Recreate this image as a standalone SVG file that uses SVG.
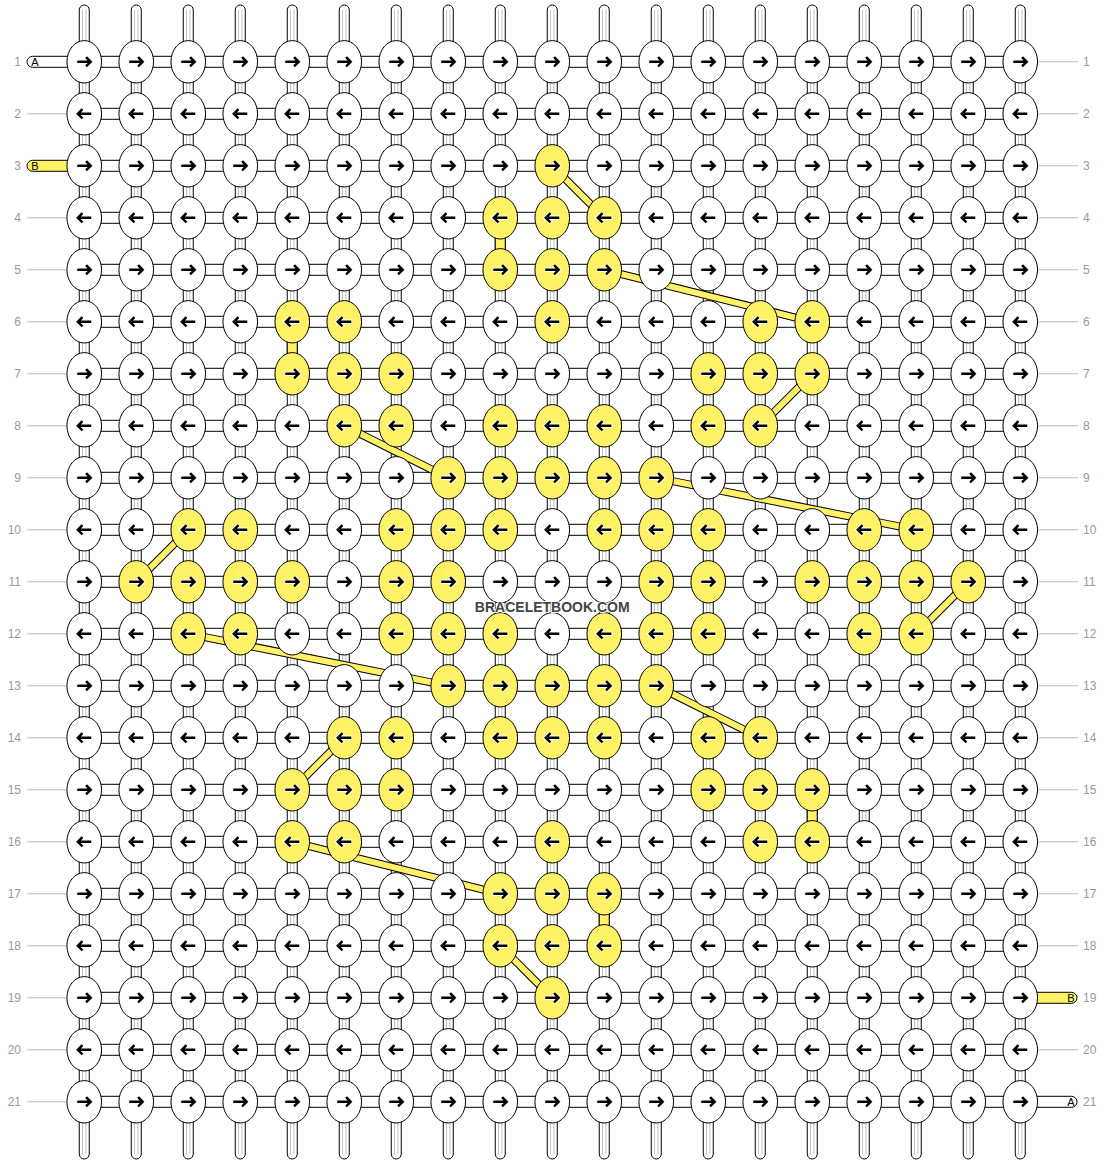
<svg xmlns="http://www.w3.org/2000/svg" xmlns:xlink="http://www.w3.org/1999/xlink" width="1104" height="1164" viewBox="0 0 1104 1164">
<style>
.k{stroke:#000;stroke-width:1}
.w{fill:#fff}
.y{fill:#fff266}
.ah{fill:none;stroke:#fff;stroke-width:4.5}
.a{fill:none;stroke:#000;stroke-width:2.5}
.t{fill:#fff;stroke:#000;stroke-width:1}
.ty{fill:#fff266;stroke:#000;stroke-width:1}
.g{fill:none;stroke:#c4c4c4;stroke-width:1}
.gl{fill:none;stroke:#bbb;stroke-width:1}
.lbl{font-family:"Liberation Sans",Arial,sans-serif;font-size:12px;fill:#999}
.sl{font-family:"Liberation Sans",Arial,sans-serif;font-size:11px;fill:#000;text-anchor:middle}
.bo{fill:none;stroke:#000;stroke-width:8}
.bi{fill:none;stroke:#fff266;stroke-width:6}
.wm{font-family:"Liberation Sans",Arial,sans-serif;font-size:14px;font-weight:bold;fill:#444;text-anchor:middle;stroke:#fff;stroke-width:2;paint-order:stroke}
</style>
<defs>
<path id="pR" d="M-7,0H6M1.8,-4.6L6.4,0L1.8,4.6"/>
<path id="pL" d="M7,0H-6M-1.8,-4.6L-6.4,0L-1.8,4.6"/>
<g id="wr"><ellipse class="k w" rx="17.3" ry="21.2"/><use href="#pR" class="ah"/><use href="#pR" class="a"/></g>
<g id="wl"><ellipse class="k w" rx="17.3" ry="21.2"/><use href="#pL" class="ah"/><use href="#pL" class="a"/></g>
<g id="yr"><ellipse class="k y" rx="17.3" ry="21.2"/><use href="#pR" class="ah"/><use href="#pR" class="a"/></g>
<g id="yl"><ellipse class="k y" rx="17.3" ry="21.2"/><use href="#pL" class="ah"/><use href="#pL" class="a"/></g>
<g id="col"><rect class="t" x="-5" y="-56.8" width="10" height="1154" rx="5"/><path class="g" d="M-1.7,-52V1092M1.7,-52V1092"/></g>
<rect id="hr" class="t" x="0" y="-5.5" width="936" height="11"/>
</defs>
<rect width="1104" height="1164" fill="#fff"/>
<g id="chart" transform="translate(84.25,61.8)">
<g id="guides">
<path class="gl" d="M-57,52H-17M-57,156H-17M-57,208H-17M-57,260H-17M-57,312H-17M-57,364H-17M-57,416H-17M-57,468H-17M-57,520H-17M-57,572H-17M-57,624H-17M-57,676H-17M-57,728H-17M-57,780H-17M-57,832H-17M-57,884H-17M-57,936H-17M-57,988H-17M-57,1040H-17"/>
<path class="gl" d="M954,0H994M954,52H994M954,104H994M954,156H994M954,208H994M954,260H994M954,312H994M954,364H994M954,416H994M954,468H994M954,520H994M954,572H994M954,624H994M954,676H994M954,728H994M954,780H994M954,832H994M954,884H994M954,988H994"/>
</g>
<g id="labels">
<text class="lbl" text-anchor="end" x="-63.25" y="4">1</text>
<text class="lbl" text-anchor="end" x="-63.25" y="56">2</text>
<text class="lbl" text-anchor="end" x="-63.25" y="108">3</text>
<text class="lbl" text-anchor="end" x="-63.25" y="160">4</text>
<text class="lbl" text-anchor="end" x="-63.25" y="212">5</text>
<text class="lbl" text-anchor="end" x="-63.25" y="264">6</text>
<text class="lbl" text-anchor="end" x="-63.25" y="316">7</text>
<text class="lbl" text-anchor="end" x="-63.25" y="368">8</text>
<text class="lbl" text-anchor="end" x="-63.25" y="420">9</text>
<text class="lbl" text-anchor="end" x="-63.25" y="472">10</text>
<text class="lbl" text-anchor="end" x="-63.25" y="524">11</text>
<text class="lbl" text-anchor="end" x="-63.25" y="576">12</text>
<text class="lbl" text-anchor="end" x="-63.25" y="628">13</text>
<text class="lbl" text-anchor="end" x="-63.25" y="680">14</text>
<text class="lbl" text-anchor="end" x="-63.25" y="732">15</text>
<text class="lbl" text-anchor="end" x="-63.25" y="784">16</text>
<text class="lbl" text-anchor="end" x="-63.25" y="836">17</text>
<text class="lbl" text-anchor="end" x="-63.25" y="888">18</text>
<text class="lbl" text-anchor="end" x="-63.25" y="940">19</text>
<text class="lbl" text-anchor="end" x="-63.25" y="992">20</text>
<text class="lbl" text-anchor="end" x="-63.25" y="1044">21</text>
<text class="lbl" x="998.75" y="4">1</text>
<text class="lbl" x="998.75" y="56">2</text>
<text class="lbl" x="998.75" y="108">3</text>
<text class="lbl" x="998.75" y="160">4</text>
<text class="lbl" x="998.75" y="212">5</text>
<text class="lbl" x="998.75" y="264">6</text>
<text class="lbl" x="998.75" y="316">7</text>
<text class="lbl" x="998.75" y="368">8</text>
<text class="lbl" x="998.75" y="420">9</text>
<text class="lbl" x="998.75" y="472">10</text>
<text class="lbl" x="998.75" y="524">11</text>
<text class="lbl" x="998.75" y="576">12</text>
<text class="lbl" x="998.75" y="628">13</text>
<text class="lbl" x="998.75" y="680">14</text>
<text class="lbl" x="998.75" y="732">15</text>
<text class="lbl" x="998.75" y="784">16</text>
<text class="lbl" x="998.75" y="836">17</text>
<text class="lbl" x="998.75" y="888">18</text>
<text class="lbl" x="998.75" y="940">19</text>
<text class="lbl" x="998.75" y="992">20</text>
<text class="lbl" x="998.75" y="1044">21</text>
</g>
<g id="strands">
<g id="strandA-start"><path class="t" d="M0,-5.5H-51.75A5.5,5.5 0 0 0 -51.75,5.5H0Z"/><text class="sl" x="-49.25" y="4">A</text></g>
<g id="strandB-start" transform="translate(0,104)"><path class="ty" d="M0,-5.5H-51.75A5.5,5.5 0 0 0 -51.75,5.5H0Z"/><text class="sl" x="-49.25" y="4">B</text></g>
<g id="strandB-end" transform="translate(0,936)"><path class="ty" d="M936,-5.5H987.25A5.5,5.5 0 0 1 987.25,5.5H936Z"/><text class="sl" x="986.75" y="4">B</text></g>
<g id="strandA-end" transform="translate(0,1040)"><path class="t" d="M936,-5.5H987.25A5.5,5.5 0 0 1 987.25,5.5H936Z"/><text class="sl" x="986.75" y="4">A</text></g>
</g>
<g id="connectors">
<use href="#col"/><use href="#col" x="52"/><use href="#col" x="104"/><use href="#col" x="156"/><use href="#col" x="208"/><use href="#col" x="260"/><use href="#col" x="312"/><use href="#col" x="364"/><use href="#col" x="416"/><use href="#col" x="468"/><use href="#col" x="520"/><use href="#col" x="572"/><use href="#col" x="624"/><use href="#col" x="676"/><use href="#col" x="728"/><use href="#col" x="780"/><use href="#col" x="832"/><use href="#col" x="884"/><use href="#col" x="936"/>
<use href="#hr"/><use href="#hr" y="52"/><use href="#hr" y="104"/><use href="#hr" y="156"/><use href="#hr" y="208"/><use href="#hr" y="260"/><use href="#hr" y="312"/><use href="#hr" y="364"/><use href="#hr" y="416"/><use href="#hr" y="468"/><use href="#hr" y="520"/><use href="#hr" y="572"/><use href="#hr" y="624"/><use href="#hr" y="676"/><use href="#hr" y="728"/><use href="#hr" y="780"/><use href="#hr" y="832"/><use href="#hr" y="884"/><use href="#hr" y="936"/><use href="#hr" y="988"/><use href="#hr" y="1040"/>
<rect class="ty" x="411" y="173" width="10" height="18"/>
<rect class="ty" x="203" y="277" width="10" height="18"/>
<rect class="ty" x="723" y="745" width="10" height="18"/>
<rect class="ty" x="515" y="849" width="10" height="18"/>
<path class="bo" d="M468,104L520,156M520,208L728,260M728,312L676,364M260,364L364,416M572,416L832,468M104,468L52,520M884,520L832,572M104,572L364,624M572,624L676,676M260,676L208,728M208,780L416,832M416,884L468,936"/>
<path class="bi" d="M468,104L520,156M520,208L728,260M728,312L676,364M260,364L364,416M572,416L832,468M104,468L52,520M884,520L832,572M104,572L364,624M572,624L676,676M260,676L208,728M208,780L416,832M416,884L468,936"/>
</g>
<g id="row1"><use href="#wr"/><use href="#wr" x="52"/><use href="#wr" x="104"/><use href="#wr" x="156"/><use href="#wr" x="208"/><use href="#wr" x="260"/><use href="#wr" x="312"/><use href="#wr" x="364"/><use href="#wr" x="416"/><use href="#wr" x="468"/><use href="#wr" x="520"/><use href="#wr" x="572"/><use href="#wr" x="624"/><use href="#wr" x="676"/><use href="#wr" x="728"/><use href="#wr" x="780"/><use href="#wr" x="832"/><use href="#wr" x="884"/><use href="#wr" x="936"/></g>
<g id="row2" transform="translate(0,52)"><use href="#wl"/><use href="#wl" x="52"/><use href="#wl" x="104"/><use href="#wl" x="156"/><use href="#wl" x="208"/><use href="#wl" x="260"/><use href="#wl" x="312"/><use href="#wl" x="364"/><use href="#wl" x="416"/><use href="#wl" x="468"/><use href="#wl" x="520"/><use href="#wl" x="572"/><use href="#wl" x="624"/><use href="#wl" x="676"/><use href="#wl" x="728"/><use href="#wl" x="780"/><use href="#wl" x="832"/><use href="#wl" x="884"/><use href="#wl" x="936"/></g>
<g id="row3" transform="translate(0,104)"><use href="#wr"/><use href="#wr" x="52"/><use href="#wr" x="104"/><use href="#wr" x="156"/><use href="#wr" x="208"/><use href="#wr" x="260"/><use href="#wr" x="312"/><use href="#wr" x="364"/><use href="#wr" x="416"/><use href="#yr" x="468"/><use href="#wr" x="520"/><use href="#wr" x="572"/><use href="#wr" x="624"/><use href="#wr" x="676"/><use href="#wr" x="728"/><use href="#wr" x="780"/><use href="#wr" x="832"/><use href="#wr" x="884"/><use href="#wr" x="936"/></g>
<g id="row4" transform="translate(0,156)"><use href="#wl"/><use href="#wl" x="52"/><use href="#wl" x="104"/><use href="#wl" x="156"/><use href="#wl" x="208"/><use href="#wl" x="260"/><use href="#wl" x="312"/><use href="#wl" x="364"/><use href="#yl" x="416"/><use href="#yl" x="468"/><use href="#yl" x="520"/><use href="#wl" x="572"/><use href="#wl" x="624"/><use href="#wl" x="676"/><use href="#wl" x="728"/><use href="#wl" x="780"/><use href="#wl" x="832"/><use href="#wl" x="884"/><use href="#wl" x="936"/></g>
<g id="row5" transform="translate(0,208)"><use href="#wr"/><use href="#wr" x="52"/><use href="#wr" x="104"/><use href="#wr" x="156"/><use href="#wr" x="208"/><use href="#wr" x="260"/><use href="#wr" x="312"/><use href="#wr" x="364"/><use href="#yr" x="416"/><use href="#yr" x="468"/><use href="#yr" x="520"/><use href="#wr" x="572"/><use href="#wr" x="624"/><use href="#wr" x="676"/><use href="#wr" x="728"/><use href="#wr" x="780"/><use href="#wr" x="832"/><use href="#wr" x="884"/><use href="#wr" x="936"/></g>
<g id="row6" transform="translate(0,260)"><use href="#wl"/><use href="#wl" x="52"/><use href="#wl" x="104"/><use href="#wl" x="156"/><use href="#yl" x="208"/><use href="#yl" x="260"/><use href="#wl" x="312"/><use href="#wl" x="364"/><use href="#wl" x="416"/><use href="#yl" x="468"/><use href="#wl" x="520"/><use href="#wl" x="572"/><use href="#wl" x="624"/><use href="#yl" x="676"/><use href="#yl" x="728"/><use href="#wl" x="780"/><use href="#wl" x="832"/><use href="#wl" x="884"/><use href="#wl" x="936"/></g>
<g id="row7" transform="translate(0,312)"><use href="#wr"/><use href="#wr" x="52"/><use href="#wr" x="104"/><use href="#wr" x="156"/><use href="#yr" x="208"/><use href="#yr" x="260"/><use href="#yr" x="312"/><use href="#wr" x="364"/><use href="#wr" x="416"/><use href="#wr" x="468"/><use href="#wr" x="520"/><use href="#wr" x="572"/><use href="#yr" x="624"/><use href="#yr" x="676"/><use href="#yr" x="728"/><use href="#wr" x="780"/><use href="#wr" x="832"/><use href="#wr" x="884"/><use href="#wr" x="936"/></g>
<g id="row8" transform="translate(0,364)"><use href="#wl"/><use href="#wl" x="52"/><use href="#wl" x="104"/><use href="#wl" x="156"/><use href="#wl" x="208"/><use href="#yl" x="260"/><use href="#yl" x="312"/><use href="#wl" x="364"/><use href="#yl" x="416"/><use href="#yl" x="468"/><use href="#yl" x="520"/><use href="#wl" x="572"/><use href="#yl" x="624"/><use href="#yl" x="676"/><use href="#wl" x="728"/><use href="#wl" x="780"/><use href="#wl" x="832"/><use href="#wl" x="884"/><use href="#wl" x="936"/></g>
<g id="row9" transform="translate(0,416)"><use href="#wr"/><use href="#wr" x="52"/><use href="#wr" x="104"/><use href="#wr" x="156"/><use href="#wr" x="208"/><use href="#wr" x="260"/><use href="#wr" x="312"/><use href="#yr" x="364"/><use href="#yr" x="416"/><use href="#yr" x="468"/><use href="#yr" x="520"/><use href="#yr" x="572"/><use href="#wr" x="624"/><use href="#wr" x="676"/><use href="#wr" x="728"/><use href="#wr" x="780"/><use href="#wr" x="832"/><use href="#wr" x="884"/><use href="#wr" x="936"/></g>
<g id="row10" transform="translate(0,468)"><use href="#wl"/><use href="#wl" x="52"/><use href="#yl" x="104"/><use href="#yl" x="156"/><use href="#wl" x="208"/><use href="#wl" x="260"/><use href="#yl" x="312"/><use href="#yl" x="364"/><use href="#yl" x="416"/><use href="#wl" x="468"/><use href="#yl" x="520"/><use href="#yl" x="572"/><use href="#yl" x="624"/><use href="#wl" x="676"/><use href="#wl" x="728"/><use href="#yl" x="780"/><use href="#yl" x="832"/><use href="#wl" x="884"/><use href="#wl" x="936"/></g>
<g id="row11" transform="translate(0,520)"><use href="#wr"/><use href="#yr" x="52"/><use href="#yr" x="104"/><use href="#yr" x="156"/><use href="#yr" x="208"/><use href="#wr" x="260"/><use href="#yr" x="312"/><use href="#yr" x="364"/><use href="#wr" x="416"/><use href="#wr" x="468"/><use href="#wr" x="520"/><use href="#yr" x="572"/><use href="#yr" x="624"/><use href="#wr" x="676"/><use href="#yr" x="728"/><use href="#yr" x="780"/><use href="#yr" x="832"/><use href="#yr" x="884"/><use href="#wr" x="936"/></g>
<g id="row12" transform="translate(0,572)"><use href="#wl"/><use href="#wl" x="52"/><use href="#yl" x="104"/><use href="#yl" x="156"/><use href="#wl" x="208"/><use href="#wl" x="260"/><use href="#yl" x="312"/><use href="#yl" x="364"/><use href="#yl" x="416"/><use href="#wl" x="468"/><use href="#yl" x="520"/><use href="#yl" x="572"/><use href="#yl" x="624"/><use href="#wl" x="676"/><use href="#wl" x="728"/><use href="#yl" x="780"/><use href="#yl" x="832"/><use href="#wl" x="884"/><use href="#wl" x="936"/></g>
<g id="row13" transform="translate(0,624)"><use href="#wr"/><use href="#wr" x="52"/><use href="#wr" x="104"/><use href="#wr" x="156"/><use href="#wr" x="208"/><use href="#wr" x="260"/><use href="#wr" x="312"/><use href="#yr" x="364"/><use href="#yr" x="416"/><use href="#yr" x="468"/><use href="#yr" x="520"/><use href="#yr" x="572"/><use href="#wr" x="624"/><use href="#wr" x="676"/><use href="#wr" x="728"/><use href="#wr" x="780"/><use href="#wr" x="832"/><use href="#wr" x="884"/><use href="#wr" x="936"/></g>
<g id="row14" transform="translate(0,676)"><use href="#wl"/><use href="#wl" x="52"/><use href="#wl" x="104"/><use href="#wl" x="156"/><use href="#wl" x="208"/><use href="#yl" x="260"/><use href="#yl" x="312"/><use href="#wl" x="364"/><use href="#yl" x="416"/><use href="#yl" x="468"/><use href="#yl" x="520"/><use href="#wl" x="572"/><use href="#yl" x="624"/><use href="#yl" x="676"/><use href="#wl" x="728"/><use href="#wl" x="780"/><use href="#wl" x="832"/><use href="#wl" x="884"/><use href="#wl" x="936"/></g>
<g id="row15" transform="translate(0,728)"><use href="#wr"/><use href="#wr" x="52"/><use href="#wr" x="104"/><use href="#wr" x="156"/><use href="#yr" x="208"/><use href="#yr" x="260"/><use href="#yr" x="312"/><use href="#wr" x="364"/><use href="#wr" x="416"/><use href="#wr" x="468"/><use href="#wr" x="520"/><use href="#wr" x="572"/><use href="#yr" x="624"/><use href="#yr" x="676"/><use href="#yr" x="728"/><use href="#wr" x="780"/><use href="#wr" x="832"/><use href="#wr" x="884"/><use href="#wr" x="936"/></g>
<g id="row16" transform="translate(0,780)"><use href="#wl"/><use href="#wl" x="52"/><use href="#wl" x="104"/><use href="#wl" x="156"/><use href="#yl" x="208"/><use href="#yl" x="260"/><use href="#wl" x="312"/><use href="#wl" x="364"/><use href="#wl" x="416"/><use href="#yl" x="468"/><use href="#wl" x="520"/><use href="#wl" x="572"/><use href="#wl" x="624"/><use href="#yl" x="676"/><use href="#yl" x="728"/><use href="#wl" x="780"/><use href="#wl" x="832"/><use href="#wl" x="884"/><use href="#wl" x="936"/></g>
<g id="row17" transform="translate(0,832)"><use href="#wr"/><use href="#wr" x="52"/><use href="#wr" x="104"/><use href="#wr" x="156"/><use href="#wr" x="208"/><use href="#wr" x="260"/><use href="#wr" x="312"/><use href="#wr" x="364"/><use href="#yr" x="416"/><use href="#yr" x="468"/><use href="#yr" x="520"/><use href="#wr" x="572"/><use href="#wr" x="624"/><use href="#wr" x="676"/><use href="#wr" x="728"/><use href="#wr" x="780"/><use href="#wr" x="832"/><use href="#wr" x="884"/><use href="#wr" x="936"/></g>
<g id="row18" transform="translate(0,884)"><use href="#wl"/><use href="#wl" x="52"/><use href="#wl" x="104"/><use href="#wl" x="156"/><use href="#wl" x="208"/><use href="#wl" x="260"/><use href="#wl" x="312"/><use href="#wl" x="364"/><use href="#yl" x="416"/><use href="#yl" x="468"/><use href="#yl" x="520"/><use href="#wl" x="572"/><use href="#wl" x="624"/><use href="#wl" x="676"/><use href="#wl" x="728"/><use href="#wl" x="780"/><use href="#wl" x="832"/><use href="#wl" x="884"/><use href="#wl" x="936"/></g>
<g id="row19" transform="translate(0,936)"><use href="#wr"/><use href="#wr" x="52"/><use href="#wr" x="104"/><use href="#wr" x="156"/><use href="#wr" x="208"/><use href="#wr" x="260"/><use href="#wr" x="312"/><use href="#wr" x="364"/><use href="#wr" x="416"/><use href="#yr" x="468"/><use href="#wr" x="520"/><use href="#wr" x="572"/><use href="#wr" x="624"/><use href="#wr" x="676"/><use href="#wr" x="728"/><use href="#wr" x="780"/><use href="#wr" x="832"/><use href="#wr" x="884"/><use href="#wr" x="936"/></g>
<g id="row20" transform="translate(0,988)"><use href="#wl"/><use href="#wl" x="52"/><use href="#wl" x="104"/><use href="#wl" x="156"/><use href="#wl" x="208"/><use href="#wl" x="260"/><use href="#wl" x="312"/><use href="#wl" x="364"/><use href="#wl" x="416"/><use href="#wl" x="468"/><use href="#wl" x="520"/><use href="#wl" x="572"/><use href="#wl" x="624"/><use href="#wl" x="676"/><use href="#wl" x="728"/><use href="#wl" x="780"/><use href="#wl" x="832"/><use href="#wl" x="884"/><use href="#wl" x="936"/></g>
<g id="row21" transform="translate(0,1040)"><use href="#wr"/><use href="#wr" x="52"/><use href="#wr" x="104"/><use href="#wr" x="156"/><use href="#wr" x="208"/><use href="#wr" x="260"/><use href="#wr" x="312"/><use href="#wr" x="364"/><use href="#wr" x="416"/><use href="#wr" x="468"/><use href="#wr" x="520"/><use href="#wr" x="572"/><use href="#wr" x="624"/><use href="#wr" x="676"/><use href="#wr" x="728"/><use href="#wr" x="780"/><use href="#wr" x="832"/><use href="#wr" x="884"/><use href="#wr" x="936"/></g>
<text id="watermark" class="wm" x="468" y="550.7">BRACELETBOOK.COM</text>
</g>
</svg>
